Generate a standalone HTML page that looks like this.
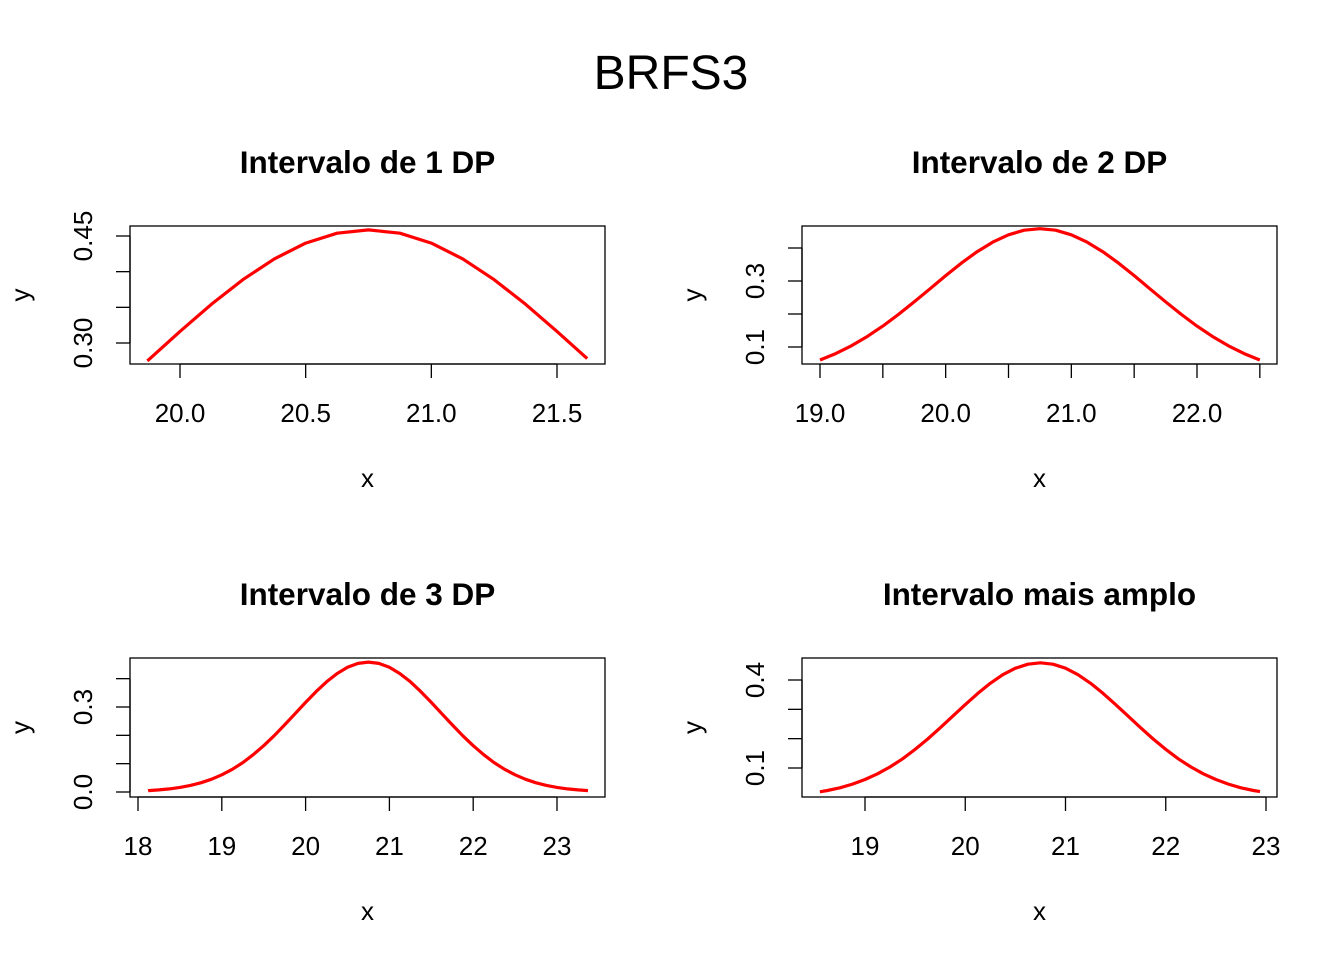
<!DOCTYPE html>
<html><head><meta charset="utf-8"><style>
html,body{margin:0;padding:0;background:#fff}
svg{display:block;font-family:"Liberation Sans",Arial,sans-serif}
</style></head><body>
<svg id="chart" width="1344" height="960" viewBox="0 0 1344 960">
<text x="671" y="89" font-size="48" text-anchor="middle">BRFS3</text>
</svg>
<script>
// shared density sample grid (x values and density values)
const xs = [18.0,18.125,18.25,18.375,18.5,18.625,18.75,18.875,19.0,19.125,19.25,19.375,19.5,19.625,19.75,19.875,20.0,20.125,20.25,20.375,20.5,20.625,20.75,20.875,21.0,21.125,21.25,21.375,21.5,21.625,21.75,21.875,22.0,22.125,22.25,22.375,22.5,22.625,22.75,22.875,23.0,23.125,23.25,23.375,23.5];
const ys = [0.0031,0.0048,0.0074,0.0110,0.0162,0.0232,0.0326,0.0450,0.0607,0.0801,0.1037,0.1315,0.1634,0.1988,0.2369,0.2765,0.3163,0.3543,0.3888,0.4179,0.4401,0.4539,0.4586,0.4539,0.4401,0.4179,0.3888,0.3543,0.3163,0.2765,0.2369,0.1988,0.1634,0.1315,0.1037,0.0801,0.0607,0.0450,0.0326,0.0232,0.0162,0.0110,0.0074,0.0048,0.0031];
const titles = ["Intervalo de 1 DP","Intervalo de 2 DP","Intervalo de 3 DP","Intervalo mais amplo"];
const xRanges = [[19.87,21.62],[19.0,22.5],[18.12,23.37],[18.55,22.94]];
const xTicks = [[20.0,20.5,21.0,21.5],[19.0,19.5,20.0,20.5,21.0,21.5,22.0,22.5],[18,19,20,21,22,23],[19,20,21,22,23]];
const xTickLabels = [["20.0","20.5","21.0","21.5"],["19.0","","20.0","","21.0","","22.0",""],["18","19","20","21","22","23"],["19","20","21","22","23"]];
const yTicks = [[0.30,0.35,0.40,0.45],[0.1,0.2,0.3,0.4],[0.0,0.1,0.2,0.3,0.4],[0.1,0.2,0.3,0.4]];
const yTickLabels = [["0.30","","","0.45"],["0.1","","0.3",""],["0.0","","","0.3",""],["0.1","","","0.4"]];

const panels = [
 {L:130,R:605,T:226,B:364, xa:[20.0,180],xb:[21.5,557], ya:[0.30,343],yb:[0.45,236]},
 {L:802,R:1277,T:226,B:364, xa:[19.0,820],xb:[22.0,1197], ya:[0.1,347],yb:[0.3,281]},
 {L:130,R:605,T:658,B:797, xa:[18,138],xb:[23,557], ya:[0.0,792],yb:[0.3,707]},
 {L:802,R:1277,T:658,B:797, xa:[19,865],xb:[23,1266], ya:[0.1,768],yb:[0.4,680]}
];
const svg = document.getElementById('chart');
const NS = "http://www.w3.org/2000/svg";
function mk(tag, attrs, parent){const e=document.createElementNS(NS,tag);for(const k in attrs)e.setAttribute(k,attrs[k]);(parent||svg).appendChild(e);return e;}
function interp(x){for(let i=0;i<xs.length-1;i++){if(x>=xs[i]&&x<=xs[i+1]){const t=(x-xs[i])/(xs[i+1]-xs[i]);return ys[i]+t*(ys[i+1]-ys[i]);}}return ys[0];}

panels.forEach((p,i)=>{
  const sx = v => p.xa[1] + (v-p.xa[0])*(p.xb[1]-p.xa[1])/(p.xb[0]-p.xa[0]);
  const sy = v => p.ya[1] + (v-p.ya[0])*(p.yb[1]-p.ya[1])/(p.yb[0]-p.ya[0]);
  const g = mk('g',{});
  
  
  const t = mk('text',{x:(p.L+p.R)/2+(i%2?0:0),y:p.T-53,'font-size':31.5,'font-weight':'bold','text-anchor':'middle'},g);
  t.textContent = titles[i];
  
  
  const box = mk('rect',{x:p.L,y:p.T,width:p.R-p.L,height:p.B-p.T,fill:'none',stroke:'#000','stroke-width':1.3},g);
  
  
  const xt = xTicks[i];
  const xl = mk('line',{x1:sx(xt[0]),x2:sx(xt[xt.length-1]),y1:p.B,y2:p.B,stroke:'#000','stroke-width':1.3},g);
  
  
  xt.forEach((v,j)=>{
    mk('line',{x1:sx(v),x2:sx(v),y1:p.B,y2:p.B+14,stroke:'#000','stroke-width':1.3},g);
    if(xTickLabels[i][j]){const tl=mk('text',{x:sx(v),y:p.B+58,'font-size':26,'text-anchor':'middle'},g);tl.textContent=xTickLabels[i][j];
      
      }
  });
  const xlab = mk('text',{x:(p.L+p.R)/2,y:p.B+123,'font-size':26,'text-anchor':'middle'},g);
  xlab.textContent='x';
  
  
  const yt = yTicks[i];
  const yl = mk('line',{x1:p.L,x2:p.L,y1:sy(yt[0]),y2:sy(yt[yt.length-1]),stroke:'#000','stroke-width':1.3},g);
  
  
  yt.forEach((v,j)=>{
    mk('line',{x1:p.L-14,x2:p.L,y1:sy(v),y2:sy(v),stroke:'#000','stroke-width':1.3},g);
    if(yTickLabels[i][j]){const X=p.L-38,Y=sy(v);const tl=mk('text',{x:X,y:Y,'font-size':26,'text-anchor':'middle',transform:`rotate(-90 ${X} ${Y})`},g);tl.textContent=yTickLabels[i][j];
      
      }
  });
  const yX=p.L-101,yY=(p.T+p.B)/2;
  const ylab = mk('text',{x:yX,y:yY,'font-size':26,'text-anchor':'middle',transform:`rotate(-90 ${yX} ${yY})`},g);
  ylab.textContent='y';
  
  
  const [a,b]=xRanges[i];
  const pts=[[a,interp(a)]];
  xs.forEach((x,k)=>{if(x>a&&x<b)pts.push([x,ys[k]]);});
  pts.push([b,interp(b)]);
  const d = pts.map((q,k)=>(k?'L':'M')+sx(q[0]).toFixed(1)+','+sy(q[1]).toFixed(1)).join(' ');
  const c = mk('path',{d:d,fill:'none',stroke:'#ff0000','stroke-width':3.2,'stroke-linejoin':'round'},g);
  
  
});
</script>
</body></html>
